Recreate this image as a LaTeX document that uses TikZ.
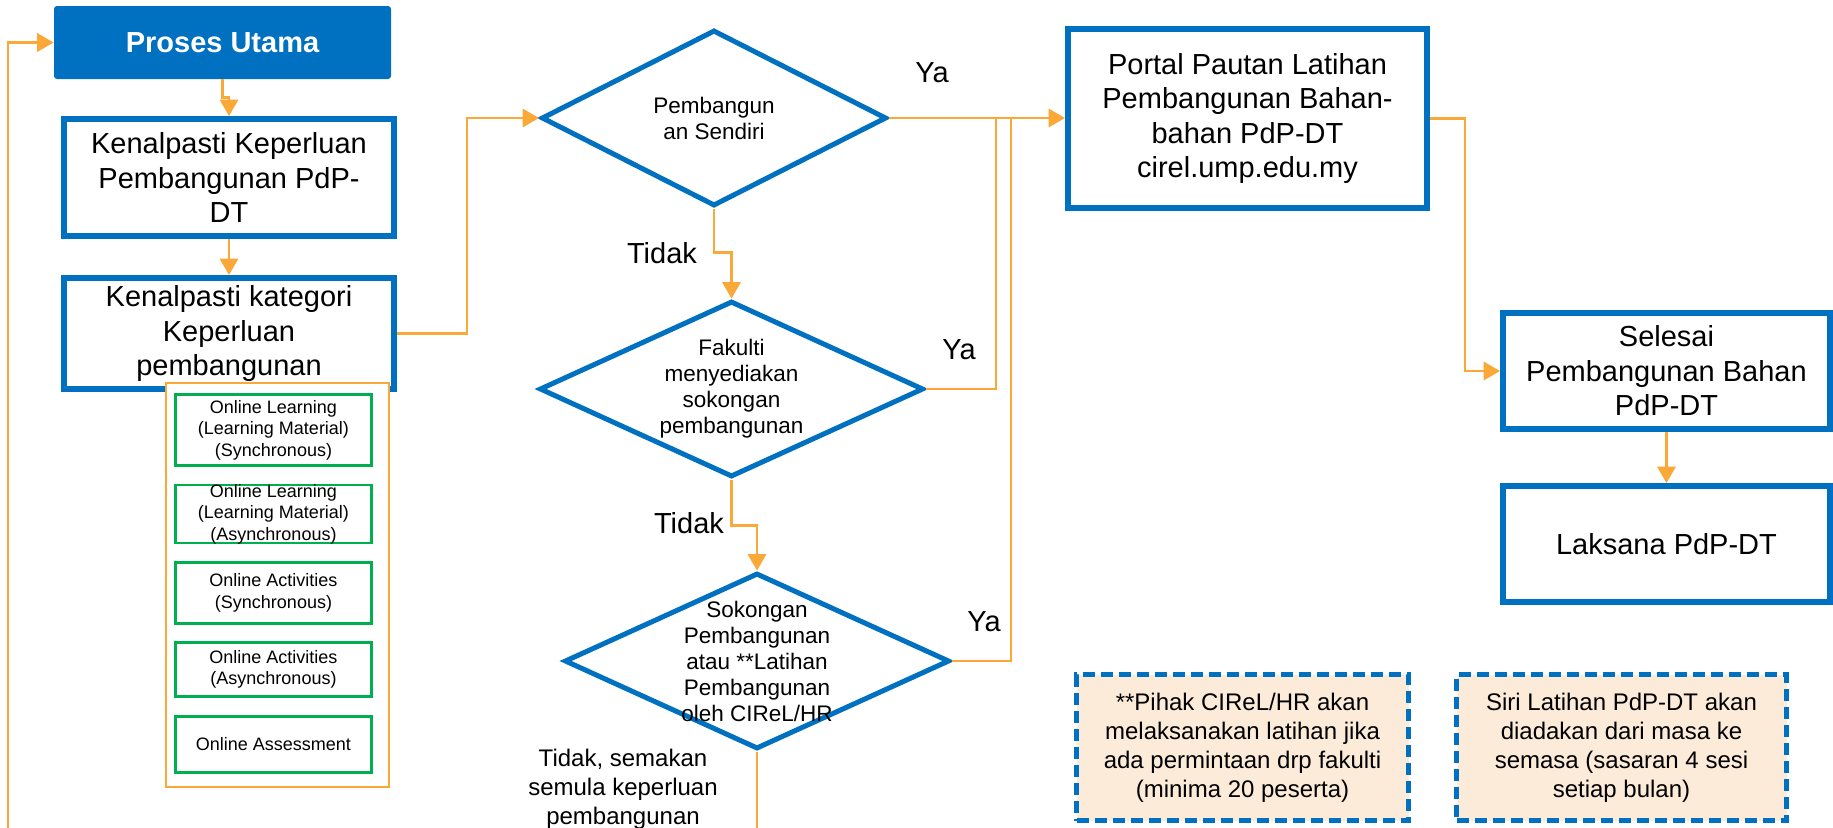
\documentclass[tikz,border=0pt]{standalone}
\usepackage{fontspec}
\setmainfont{Liberation Sans}
\usepackage{tikz}
\usetikzlibrary{shapes}
\usetikzlibrary{arrows}
\usetikzlibrary{positioning}

\definecolor{umpblue}{RGB}{0,112,192}
\definecolor{lineorange}{RGB}{250,168,56}
\definecolor{optgreen}{RGB}{0,176,80}
\definecolor{notefill}{RGB}{253,235,217}

\begin{document}
\begin{tikzpicture}[
            x=0.5pt, y=-0.5pt,
            every node/.style={align=center, font=\fontsize{14.5pt}{17.25pt}\selectfont},
            box/.style={draw=umpblue, line width=3pt, minimum width=165pt, minimum height=58pt, inner sep=0pt},
            decision/.style={diamond, draw=umpblue, line width=2.5pt, inner sep=0pt, minimum height=88pt},
            dtext/.style={font=\fontsize{11.25pt}{13pt}\selectfont},
            option/.style={draw=optgreen, line width=1.35pt, minimum width=98pt, inner sep=0pt},
            otext/.style={font=\fontsize{9pt}{10.75pt}\selectfont},
            note/.style={draw=umpblue, fill=notefill, line width=2.5pt, dash pattern=on 6pt off 3pt, minimum width=166pt, minimum height=73pt, font=\fontsize{12pt}{14.5pt}\selectfont},
            flow/.style={draw=lineorange, line width=1.25pt, -triangle 60},
            link/.style={draw=lineorange, line width=1.25pt}
        ]
            \useasboundingbox (0,0) rectangle (1833,827);
            \node [fill=umpblue, rounded corners=1.5pt, minimum width=168.5pt, minimum height=36.5pt, text=white, font=\bfseries\fontsize{14.5pt}{17.25pt}\selectfont] (main) at (222.5,42.5) {Proses Utama};
            \node [box, minimum height=58.5pt] (req) at (229,177.5) {Kenalpasti Keperluan\\Pembangunan PdP-\\DT};
            \node [box, below of=req, node distance=78pt, minimum height=55.5pt] (cat) {Kenalpasti kategori\\Keperluan\\pembangunan};
            \node [draw=lineorange, line width=0.75pt, fill=white, minimum width=111.5pt, minimum height=202pt] (opts) at (277.5,585) {};
            \node [option, minimum height=35.5pt, label={[otext]center:Online Learning\\(Learning Material)\\(Synchronous)}] (ol1) at (273.5,430) {};
            \node [option, minimum height=29pt, label={[otext]center:Online Learning\\(Learning Material)\\(Asynchronous)}] (ol2) at (273.5,514) {};
            \node [option, minimum height=30.5pt, label={[otext]center:Online Activities\\(Synchronous)}] (oa1) at (273.5,593) {};
            \node [option, minimum height=27pt, label={[otext]center:Online Activities\\(Asynchronous)}] (oa2) at (273.5,669.5) {};
            \node [option, minimum height=28pt, label={[otext]center:Online Assessment}] (oas) at (273.5,744.5) {};
            \node [decision, minimum width=172.5pt, label={[dtext]center:Pembangun\\an Sendiri}] (dev) at (714,118) {};
            \node [decision, minimum width=192pt, label={[dtext]center:Fakulti\\menyediakan\\sokongan\\pembangunan}] (fac) at (731.5,389) {};
            \node [decision, minimum width=192.5pt, label={[dtext]center:Sokongan\\Pembangunan\\atau **Latihan\\Pembangunan\\oleh CIReL/HR}] (sup) at (757,661) {};
            \node [box, minimum width=179.5pt, minimum height=89.5pt] (portal) at (1247.5,118.5) {Portal Pautan Latihan\\Pembangunan Bahan-\\bahan PdP-DT\\cirel.ump.edu.my};
            \node [box, minimum width=163.5pt] (done) at (1666.5,371) {Selesai\\Pembangunan Bahan\\PdP-DT};
            \node [box, below of=done, node distance=86.5pt, minimum width=163.5pt] (run) {Laksana PdP-DT};
            \node [note] (note1) at (1242.5,747.5) {**Pihak CIReL/HR akan\\melaksanakan latihan jika\\ada permintaan drp fakulti\\(minima 20 peserta)};
            \node [note, right of=note1, node distance=189.5pt, minimum width=165pt] (note2) {Siri Latihan PdP-DT akan\\diadakan dari masa ke\\semasa (sasaran 4 sesi\\setiap bulan)};
            \node (ya1) at (932,73) {Ya};
            \node (ya2) at (959,350) {Ya};
            \node (ya3) at (984,622) {Ya};
            \node (no1) at (662,253) {Tidak};
            \node (no2) at (689,523) {Tidak};
            \node [font=\fontsize{12pt}{14.5pt}\selectfont] (no3) at (623,789) {Tidak, semakan\\semula keperluan\\pembangunan};
            \coordinate (j1) at (996,118);
            \coordinate (j2) at (1011,118);
            \coordinate (back) at (8,840);
            \path[flow] (main.south) -- ++(0,18) -| (req.north);
            \path[flow] (req) -- (cat);
            \path[flow] (cat.east) -- ++(70,0) |- (dev.west);
            \path[flow] (dev.east) -- (dev.east -| portal.west);
            \path[flow] (dev.south) -- ++(0,44) -| (fac.north);
            \path[link] (fac.east) -| (j1);
            \path[flow] (fac.south) -- ++(0,46) -| (sup.north);
            \path[link] (sup.east) -| (j2);
            \path[link] (sup.south) -- (sup.south |- back);
            \path[flow] (back) |- (main.west);
            \path[flow] (portal.east) -- ++(35,0) |- (done.west);
            \path[flow] (done) -- (run);
        \end{tikzpicture}
\end{document}
